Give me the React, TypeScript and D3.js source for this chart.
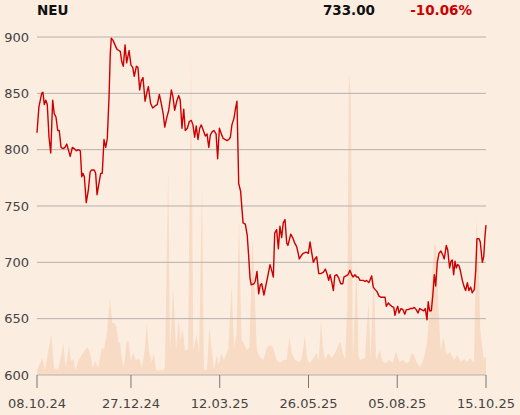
import React from "react";
import * as d3 from "d3";

const title = "NEU";
const lastPrice = "733.00";
const change = "-10.06%";

const yTicks = [600, 650, 700, 750, 800, 850, 900];
const xTickDays = [0, 54, 105, 156, 207, 258];
const xTickLabels = ["08.10.24", "27.12.24", "12.03.25", "26.05.25", "05.08.25", "15.10.25"];

// trading-day position (0 = 08.10.24, 258 = 15.10.25) and close price
const priceDays = [
  0, 1.1, 2.7, 3.4, 4.2, 5.0, 5.9, 6.9, 7.9, 9.0, 9.9, 10.9, 11.9, 12.8, 13.8, 15.1, 16.1, 17.1, 18.0, 19.1,
  20.3, 21.4, 22.6, 23.7, 24.9, 25.7, 26.4, 27.2, 28.3, 29.5, 30.5, 31.4, 32.9, 33.7, 34.5, 35.6, 36.6, 37.5,
  38.5, 39.5, 40.4, 41.4, 42.1, 42.7, 43.7, 44.8, 46.0, 47.1, 47.9, 48.7, 49.6, 50.6, 51.5, 52.9, 54.0, 55.0,
  55.9, 57.1, 58.0, 59.0, 59.9, 60.9, 62.1, 63.2, 64.0, 65.3, 66.5, 68.0, 69.1, 70.3, 71.4, 72.6, 73.4, 74.5,
  75.7, 77.2, 78.1, 79.1, 80.3, 81.4, 82.3, 83.3, 84.3, 85.2, 86.4, 87.5, 88.7, 89.6, 90.6, 91.5, 92.5, 93.5,
  94.4, 95.6, 96.7, 97.7, 98.7, 99.6, 100.7, 101.7, 102.9, 103.8, 104.8, 105.9, 107.0, 108.2, 109.2, 110.2,
  111.1, 112.0, 113.2, 113.9, 114.9, 115.9, 117.0, 118.4, 119.7, 120.8, 121.6, 122.4, 123.1, 124.7, 125.4,
  126.4, 127.4, 128.3, 129.1, 130.4, 131.6, 132.9, 133.9, 135.0, 135.8, 136.6, 137.7, 138.7, 139.6, 140.6,
  141.5, 142.5, 143.5, 144.2, 145.8, 146.9, 148.1, 149.2, 150.1, 150.7, 151.9, 153.0, 154.6, 155.9, 156.9,
  157.8, 158.8, 159.7, 160.7, 161.9, 163.0, 164.5, 165.7, 166.8, 167.6, 168.4, 169.3, 170.3, 171.1, 172.2,
  173.4, 174.5, 175.7, 176.4, 177.6, 178.7, 179.8, 180.8, 181.7, 182.7, 183.7, 184.6, 185.6, 186.6, 187.5,
  188.5, 189.4, 190.6, 191.3, 192.3, 193.2, 194.2, 195.4, 196.5, 197.8, 199.2, 200.0, 200.7, 201.9, 203.0,
  203.8, 205.0, 205.7, 206.5, 207.3, 208.0, 209.2, 210.3, 211.3, 212.2, 213.3, 214.5, 215.6, 216.8, 217.9,
  218.9, 219.9, 221.0, 222.2, 223.1, 224.1, 224.8, 225.6, 226.6, 227.5, 228.3, 229.1, 230.0, 231.0, 232.1,
  233.3, 234.0, 235.2, 236.0, 237.1, 237.9, 238.6, 239.4, 240.2, 240.9, 241.7, 242.5, 243.2, 244.4, 245.5,
  246.3, 247.3, 248.2, 249.2, 250.1, 251.3, 252.1, 252.8, 254.0, 254.7, 255.9, 256.7, 257.4, 258.0,
];
const priceValues = [
  815, 838, 850, 851, 840, 844, 840, 811, 797, 844, 832, 829, 817, 817, 802, 801, 802, 805, 800, 794,
  802, 801, 799, 800, 799, 776, 779, 776, 753, 764, 780, 782, 782, 779, 760, 770, 779, 779,
  809, 802, 810, 847, 885, 899, 897, 893, 889, 888, 887, 878, 874, 893, 877, 888, 875, 873,
  865, 874, 873, 853, 861, 864, 843, 851, 856, 841, 837, 839, 840, 849, 841, 831, 820, 828,
  835, 853, 847, 835, 843, 848, 844, 819, 836, 817, 819, 825, 826, 822, 811, 821, 809, 819,
  822, 817, 812, 814, 802, 813, 816, 817, 814, 792, 819, 814, 810, 809, 808, 809,
  811, 822, 828, 835, 843, 770, 763, 735, 734, 724, 706, 686, 680, 681, 683,
  692, 672, 680, 681, 671, 680, 690, 698, 692, 687, 726, 729, 712, 732, 722,
  735, 738, 717, 715, 725, 722, 717, 714, 708, 703, 706, 708, 709, 708, 718,
  709, 700, 703, 705, 690, 690, 691, 694, 689, 684, 689, 683, 675, 688, 689,
  686, 681, 681, 687, 688, 689, 693, 689, 687, 689, 687, 687, 684, 684, 684,
  683, 684, 682, 684, 688, 678, 676, 674, 670, 669, 669, 669, 661, 664, 662,
  661, 660, 653, 658, 661, 655, 659, 658, 654, 658, 658, 659, 659, 660, 658,
  655, 659, 658, 657, 659, 649, 665, 657, 657, 672, 689, 679, 700, 708, 710,
  706, 703, 715, 711, 695, 701, 702, 689, 701, 695, 698, 697, 693, 684, 678,
  675, 682, 675, 678, 673, 676, 693, 721, 721, 718, 700, 705, 723, 733,
];

// trading-day position and traded volume (thousands)
const volumeDays = [
  0, 3.0, 4.6, 8.2, 9.8, 12.2, 15.1, 16.5, 18.4, 19.5, 20.9, 22.1, 23.7, 25.7, 27.6, 28.9, 30.5, 32.0, 33.5,
  35.2, 37.2, 38.5, 40.0, 41.9, 43.3, 44.4, 45.8, 46.7, 47.7, 48.8, 50.0, 51.5, 52.7, 53.8, 55.3, 56.9, 58.8,
  60.2, 62.1, 63.0, 64.2, 65.9, 67.2, 68.4, 69.7, 71.7, 72.6, 73.5, 75.4, 76.4, 78.3, 79.9, 81.4, 82.5, 83.7,
  85.0, 86.8, 88.5, 89.8, 91.8, 93.1, 94.8, 95.9, 97.7, 99.0, 100.6, 101.7, 103.3, 104.4, 105.9, 107.4, 109.9,
  111.9, 113.2, 114.6, 116.1, 117.5, 118.5, 120.5, 122.1, 123.8, 125.3, 126.3, 128.1, 130.0, 132.0, 133.9,
  135.8, 137.7, 139.6, 141.5, 143.4, 145.0, 146.4, 148.3, 150.1, 151.9, 154.0, 155.3, 156.9, 158.8, 160.7,
  161.9, 163.2, 164.2, 165.5, 167.4, 169.3, 171.2, 173.1, 174.5, 175.7, 177.0, 178.3, 179.2, 180.3, 181.5,
  183.6, 184.7, 185.6, 188.5, 190.5, 191.7, 193.5, 194.8, 197.1, 198.6, 200.5, 202.2, 204.4, 206.3, 208.2,
  210.3, 212.4, 213.7, 215.3, 216.6, 218.4, 220.1, 222.0, 223.9, 225.3, 226.7, 228.4, 229.6, 230.6, 232.0,
  233.5, 235.4, 237.3, 239.6, 241.5, 243.5, 245.4, 247.3, 248.8, 251.1, 252.6, 253.7, 254.7, 256.6, 258.0,
];
const volumeValues = [
  5, 17, 5, 41, 7, 5, 31, 8, 29, 14, 16, 5, 14, 20, 25, 28, 22, 7, 14,
  7, 27, 26, 40, 76, 52, 52, 47, 33, 33, 15, 8, 34, 33, 15, 22, 15, 17,
  7, 27, 52, 25, 13, 22, 5, 4, 5, 4, 8, 205, 25, 87, 25, 55, 35, 46,
  25, 25, 325, 25, 41, 20, 189, 5, 5, 48, 22, 5, 20, 10, 22, 15, 26,
  89, 28, 40, 155, 35, 33, 25, 28, 138, 72, 25, 18, 15, 27, 30,
  27, 15, 12, 15, 15, 38, 22, 15, 13, 15, 40, 15, 12, 17, 22,
  14, 55, 28, 15, 22, 17, 22, 30, 33, 22, 15, 68, 302, 280, 15,
  110, 20, 15, 17, 75, 15, 103, 15, 25, 13, 12, 15, 12, 24, 13,
  15, 12, 13, 22, 20, 12, 8, 15, 30, 58, 90, 132, 125, 70, 25,
  38, 20, 23, 15, 20, 13, 16, 13, 17, 12, 155, 120, 45, 17, 18,
];

const FONT = "'DejaVu Sans', sans-serif";

export default function App() {
  const W = 520;
  const H = 415;
  const left = 37;
  const right = 486;
  const top = 37;
  const bottom = 375;

  const x = d3.scaleLinear().domain([0, 258]).range([left, right]);
  const y = d3.scaleLinear().domain([600, 900]).range([bottom, top]);
  const yv = d3.scaleLinear().domain([0, 338]).range([bottom, top]);

  const line = d3
    .line<number>()
    .x((_, i) => x(priceDays[i]))
    .y((d) => y(d));
  const area = d3
    .area<number>()
    .x((_, i) => x(volumeDays[i]))
    .y0(yv(0))
    .y1((d) => yv(d));

  return (
    <svg
      width={W}
      height={H}
      style={{ position: "absolute", left: 0, top: 0, display: "block" }}
      fontFamily={FONT}
    >
      <rect x={0} y={0} width={W} height={H} fill="#fcede1" />
      <path d={area(volumeValues) || ""} fill="#f8dbc4" />
      {yTicks.map((t) => (
        <g key={t}>
          <line x1={left} x2={right} y1={y(t)} y2={y(t)} stroke="#b5b0ac" strokeWidth={1} />
          <text x={29} y={y(t)} dy="0.36em" textAnchor="end" fontSize={13} fill="#444">
            {t}
          </text>
        </g>
      ))}
      {xTickDays.map((d, i) => (
        <g key={d}>
          <line x1={x(d)} x2={x(d)} y1={bottom} y2={bottom + 13} stroke="#777" strokeWidth={1} />
          <text x={x(d)} y={408} textAnchor="middle" fontSize={13} fill="#444">
            {xTickLabels[i]}
          </text>
        </g>
      ))}
      <path d={line(priceValues) || ""} fill="none" stroke="#cc0000" strokeWidth={1.4} strokeLinejoin="round" />
      <text x={left} y={15} fontSize={13.5} fontWeight="bold" fill="#111">
        {title}
      </text>
      <text x={375} y={15} fontSize={13.5} fontWeight="bold" fill="#111" textAnchor="end">
        {lastPrice}
      </text>
      <text x={472} y={15} fontSize={13.5} fontWeight="bold" fill="#cc0000" textAnchor="end">
        {change}
      </text>
    </svg>
  );
}
